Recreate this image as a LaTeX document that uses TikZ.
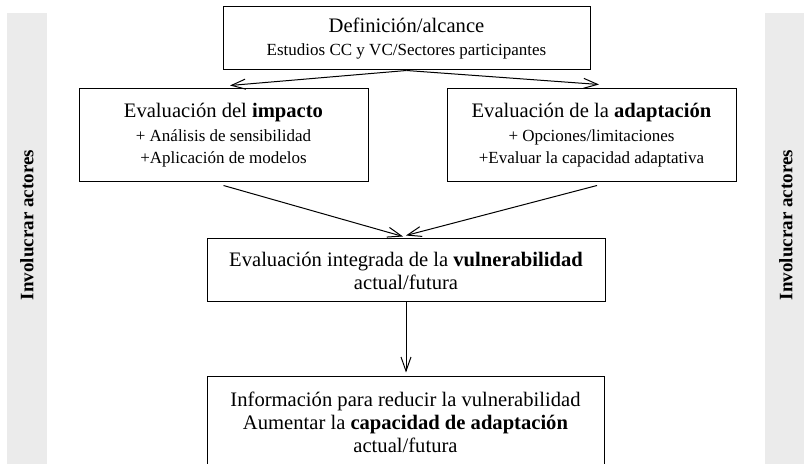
\documentclass[tikz,border=0pt]{standalone}
\usepackage{fontspec}
\setmainfont{Liberation Serif}
\usetikzlibrary{arrows.meta}
\definecolor{bandgray}{HTML}{EBEBEB}
\newcommand{\bigline}{\fontsize{10.3pt}{11.5pt}\selectfont}
\newcommand{\smallline}{\fontsize{8.5pt}{10pt}\selectfont}
\tikzset{
  box/.style={draw=black, line width=0.5pt, fill=white, align=center, inner sep=0pt, font=\bigline},
  band/.style={fill=bandgray, draw=none},
  bandtext/.style={rotate=90, font=\fontsize{9.5pt}{11pt}\selectfont\bfseries},
  flow/.style={draw=black, line width=0.5pt, -{Straight Barb[length=7pt,width=5pt]}}
}
\begin{document}
\begin{tikzpicture}[x=0.5pt,y=-0.5pt]
\useasboundingbox (0,0) rectangle (804,464);
\clip (0,0) rectangle (804,464);
% side bands
\fill[band] (7,13) rectangle (47,470);
\fill[band] (765,13) rectangle (805,470);
\node[bandtext] (invL) at (27,225) {Involucrar actores};
\node[bandtext] (invR) at (786,225) {Involucrar actores};
% boxes
\node[box, minimum width=183.5pt, minimum height=31.5pt] (def) at (406.5,38.5)
  {Definición/alcance\\[0pt] {\smallline Estudios CC y VC/Sectores participantes}};
\node[box, minimum width=144.5pt, minimum height=46.5pt] (imp) at (223.5,135.5)
  {Evaluación del \textbf{impacto}\\[0.5pt] {\smallline + Análisis de sensibilidad}\\[-0.5pt] {\smallline +Aplicación de modelos}};
\node[box, minimum width=144.5pt, minimum height=46.5pt] (ada) at (591.5,135.5)
  {Evaluación de la \textbf{adaptación}\\[0.5pt] {\smallline + Opciones/limitaciones}\\[-0.5pt] {\smallline +Evaluar la capacidad adaptativa}};
\node[box, minimum width=199pt, minimum height=31.5pt] (vul) at (406,270.5)
  {Evaluación integrada de la \textbf{vulnerabilidad}\\ actual/futura};
\node[box, minimum width=198.5pt, minimum height=45pt] (inf) at (405.5,422)
  {Información para reducir la vulnerabilidad\\ Aumentar la \textbf{capacidad de adaptación}\\ actual/futura};
% connectors
\coordinate (impIn) at ([xshift=3.25pt,yshift=1.5pt]imp.north);
\coordinate (adaIn) at ([xshift=3.75pt,yshift=2pt]ada.north);
\coordinate (impOut) at ([yshift=-1.5pt]imp.south);
\coordinate (adaOut) at ([xshift=2.75pt,yshift=-1.5pt]ada.south);
\coordinate (vulInL) at ([xshift=-1.5pt,yshift=1pt]vul.north);
\coordinate (vulInR) at ([xshift=0pt,yshift=1.5pt]vul.north);
\coordinate (infIn) at ([xshift=0.25pt,yshift=2pt]inf.north);
\draw[flow] (def.south) -- (impIn);
\draw[flow] (def.south) -- (adaIn);
\draw[flow] (impOut) -- (vulInL);
\draw[flow] (adaOut) -- (vulInR);
\draw[flow] (vul.south) -- (infIn);
\end{tikzpicture}
\end{document}
